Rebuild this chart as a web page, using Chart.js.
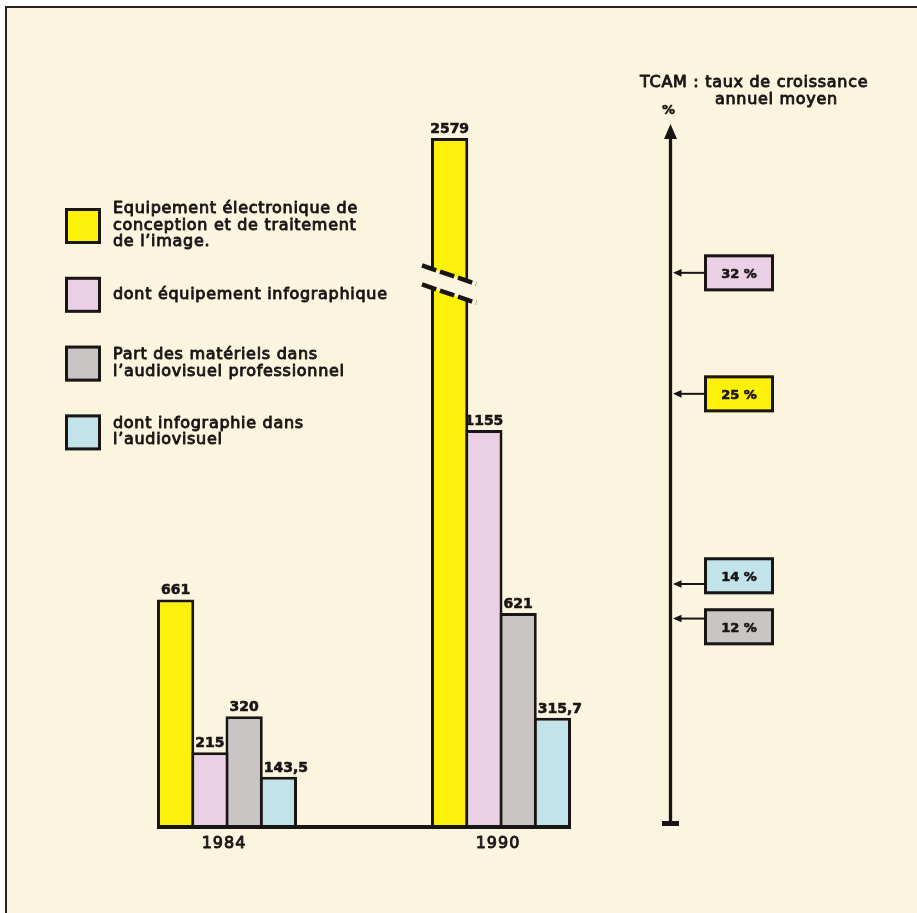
<!DOCTYPE html>
<html>
<head>
<meta charset="utf-8">
<script src="https://cdn.jsdelivr.net/npm/chart.js@4/dist/chart.umd.min.js"></script>
<style>
  html, body { margin: 0; padding: 0; background: #ffffff; }
  canvas { display: block; }
</style>
</head>
<body>
<canvas id="chart" width="917" height="913"></canvas>
<script>
// ---- data -------------------------------------------------------------
const years = ['1984', '1990'];

const seriesNames = [
  ['Equipement électronique de', 'conception et de traitement', 'de l’image.'],
  ['dont équipement infographique'],
  ['Part des matériels dans', 'l’audiovisuel professionnel'],
  ['dont infographie dans', 'l’audiovisuel']
];

const equipementImage         = [661, 2579];
const equipementInfographique = [215, 1155];
const audiovisuelPro          = [320, 621];
const infographieAudiovisuel  = [143.5, 315.7];

// taux de croissance annuel moyen (%), one per series
const growthRates = [25, 32, 12, 14];

// interrupted stretch of the value axis
const axisBreak = [1580, 2152];

const seriesColors = ['#fdf00a', '#e9d0e4', '#c8c5c4', '#c2e3ea'];

// ---- styling ----------------------------------------------------------
const INK = '#1a1515';
const PAPER = '#fbf4df';
const FONT = '"DejaVu Sans", sans-serif';

// Linear scale that skips the range [breakFrom, breakTo]
class BrokenLinearScale extends Chart.LinearScale {
  squeeze(v) {
    const from = this.options.breakFrom, to = this.options.breakTo;
    if (v == null || from == null || v <= from) return v;
    return v < to ? from : v - (to - from);
  }
  getPixelForValue(v) {
    return super.getPixelForValue(this.squeeze(v));
  }
}
BrokenLinearScale.id = 'brokenLinear';
BrokenLinearScale.defaults = Chart.LinearScale.defaults;
Chart.register(BrokenLinearScale);

const allValues = [].concat(equipementImage, equipementInfographique, audiovisuelPro, infographieAudiovisuel);
const maxValue = Math.max(...allValues);
const squeezedMax = maxValue > axisBreak[1] ? maxValue - (axisBreak[1] - axisBreak[0]) : maxValue;

const fmt = v => String(v).replace('.', ',');

function text(ctx, str, x, y, opts) {
  ctx.save();
  ctx.font = opts.font;
  ctx.fillStyle = INK;
  ctx.textAlign = opts.align || 'left';
  ctx.textBaseline = 'alphabetic';
  if ('letterSpacing' in ctx) ctx.letterSpacing = (opts.spacing || 0) + 'px';
  ctx.fillText(str, x, y);
  if (opts.heavy) {
    ctx.strokeStyle = INK;
    ctx.lineWidth = opts.heavy;
    ctx.lineJoin = 'round';
    ctx.strokeText(str, x, y);
  }
  ctx.restore();
}

const LABEL = { font: '16px ' + FONT, spacing: 0.7, heavy: 0.9 };

const figurePlugin = {
  id: 'figure',
  beforeDraw(chart) {
    const { ctx, width, height } = chart;
    ctx.save();
    ctx.fillStyle = '#ffffff';
    ctx.fillRect(0, 0, width, height);
    ctx.fillStyle = PAPER;
    ctx.fillRect(7, 8, width - 7, height - 8);
    ctx.strokeStyle = '#2a2222';
    ctx.lineWidth = 2;
    ctx.beginPath();
    ctx.moveTo(6, height);
    ctx.lineTo(6, 7);
    ctx.lineTo(width, 7);
    ctx.stroke();
    ctx.restore();
  },
  afterDatasetsDraw(chart) {
    const { ctx, chartArea } = chart;
    const yScale = chart.scales.y;
    const xScale = chart.scales.x;
    const rScale = chart.scales.yRate;
    const metas = chart.data.datasets.map((_, i) => chart.getDatasetMeta(i));

    // baseline under the bars
    const y0 = yScale.getPixelForValue(0);
    let minX = Infinity, maxX = -Infinity;
    metas.forEach(m => m.data.forEach(el => {
      minX = Math.min(minX, el.x - el.width / 2);
      maxX = Math.max(maxX, el.x + el.width / 2);
    }));
    ctx.save();
    ctx.strokeStyle = INK;
    ctx.lineWidth = 4;
    ctx.beginPath();
    ctx.moveTo(minX, y0 + 1);
    ctx.lineTo(maxX, y0 + 1);
    ctx.stroke();
    ctx.restore();

    // break marks on bars that cross the interrupted range
    metas.forEach((m, d) => m.data.forEach((el, i) => {
      const v = chart.data.datasets[d].data[i];
      if (v <= axisBreak[1]) return;
      const yc = yScale.getPixelForValue(axisBreak[0]);
      const slope = 0.34, h = 9.5;
      const l = el.x - el.width / 2 - 9, r = el.x + el.width / 2 + 8;
      const yAt = (x, off) => yc + off + slope * (x - el.x);
      ctx.save();
      ctx.fillStyle = PAPER;
      ctx.beginPath();
      ctx.moveTo(l, yAt(l, -h));
      ctx.lineTo(r, yAt(r, -h));
      ctx.lineTo(r, yAt(r, h));
      ctx.lineTo(l, yAt(l, h));
      ctx.closePath();
      ctx.fill();
      ctx.strokeStyle = INK;
      ctx.lineWidth = 4.5;
      ctx.setLineDash([15, 4]);
      [-h, h].forEach(off => {
        ctx.beginPath();
        ctx.moveTo(l, yAt(l, off));
        ctx.lineTo(r, yAt(r, off));
        ctx.stroke();
      });
      ctx.restore();
    }));

    // value labels above the bars (integer part centred on the bar)
    metas.forEach((m, d) => m.data.forEach((el, i) => {
      const v = chart.data.datasets[d].data[i];
      const s = fmt(v);
      ctx.save();
      ctx.font = 'bold 14px ' + FONT;
      const wInt = ctx.measureText(s.split(',')[0]).width;
      ctx.restore();
      text(ctx, s, el.x - wInt / 2, el.y - 5, { font: 'bold 14px ' + FONT, heavy: 0.6 });
    }));

    // year labels
    years.forEach((yr, i) => {
      text(ctx, yr, xScale.getPixelForValue(i) - 3, y0 + 22,
        Object.assign({}, LABEL, { align: 'center', spacing: 1 }));
    });

    // legend
    const boxX = 65, boxS = 36, firstTop = 208, step = 68.8;
    chart.data.datasets.forEach((ds, d) => {
      const top = firstTop + d * step;
      ctx.save();
      ctx.fillStyle = ds.backgroundColor;
      ctx.fillRect(boxX, top, boxS, boxS);
      ctx.strokeStyle = INK;
      ctx.lineWidth = 3;
      ctx.strokeRect(boxX + 1.5, top + 1.5, boxS - 3, boxS - 3);
      ctx.restore();
      const lines = seriesNames[d];
      const lh = 16.5;
      const first = top + boxS / 2 - (lines.length - 1) * lh / 2 + 3.8;
      lines.forEach((ln, k) => text(ctx, ln, 113, first + k * lh, LABEL));
    });

    // growth-rate axis
    const ax = 670.5;
    const axBottom = rScale.getPixelForValue(0);
    const axTop = chartArea.top;
    ctx.save();
    ctx.strokeStyle = INK;
    ctx.fillStyle = INK;
    ctx.lineWidth = 3.3;
    ctx.beginPath();
    ctx.moveTo(ax, axBottom - 2);
    ctx.lineTo(ax, axTop);
    ctx.stroke();
    ctx.beginPath();
    ctx.moveTo(ax, axTop - 14);
    ctx.lineTo(ax - 6.5, axTop + 1);
    ctx.lineTo(ax + 6.5, axTop + 1);
    ctx.closePath();
    ctx.fill();
    ctx.fillRect(ax - 8.5, axBottom - 5, 17, 5);
    ctx.restore();

    text(ctx, '%', ax - 2, axTop - 24, { font: 'bold 13px ' + FONT, align: 'center', heavy: 0.5 });
    text(ctx, 'TCAM : taux de croissance', 640, axTop - 51, LABEL);
    text(ctx, 'annuel moyen', 715, axTop - 34, LABEL);

    // growth-rate tags
    const bw = 70, bh = 37, bx = 704, minGap = 51;
    const tags = growthRates.map((r, d) => ({ d, r, y: rScale.getPixelForValue(r) }));
    tags.forEach(t => t.cy = t.y);
    const sorted = tags.slice().sort((a, b) => a.y - b.y);
    for (let k = 1; k < sorted.length; k++) {
      const a = sorted[k - 1], b = sorted[k];
      const gap = b.cy - a.cy;
      if (gap < minGap) {
        const push = (minGap - gap) / 2;
        a.cy -= push;
        b.cy += push;
      }
    }
    tags.forEach(t => {
      ctx.save();
      ctx.strokeStyle = INK;
      ctx.fillStyle = INK;
      ctx.lineWidth = 2;
      ctx.beginPath();
      ctx.moveTo(bx, t.y);
      ctx.lineTo(ax + 6, t.y);
      ctx.stroke();
      ctx.beginPath();
      ctx.moveTo(ax + 2.5, t.y);
      ctx.lineTo(ax + 11, t.y - 3.8);
      ctx.lineTo(ax + 11, t.y + 3.8);
      ctx.closePath();
      ctx.fill();
      ctx.fillStyle = seriesColors[t.d];
      ctx.fillRect(bx, t.cy - bh / 2, bw, bh);
      ctx.lineWidth = 3;
      ctx.strokeRect(bx + 1.5, t.cy - bh / 2 + 1.5, bw - 3, bh - 3);
      ctx.restore();
      text(ctx, t.r + ' %', bx + bw / 2, t.cy + 5, { font: 'bold 13px ' + FONT, align: 'center', heavy: 0.6 });
    });
  }
};

const seriesData = [equipementImage, equipementInfographique, audiovisuelPro, infographieAudiovisuel];

new Chart(document.getElementById('chart'), {
  type: 'bar',
  data: {
    labels: years,
    datasets: seriesData.map((values, d) => ({
      label: seriesNames[d].join(' '),
      data: values,
      backgroundColor: seriesColors[d],
      borderColor: INK,
      borderWidth: 3,
      categoryPercentage: 0.5,
      barPercentage: 1.0876,
      clip: false
    }))
  },
  options: {
    responsive: false,
    animation: false,
    events: [],
    layout: { padding: { left: 90, right: 279, top: 138, bottom: 87 } },
    plugins: { legend: { display: false }, tooltip: { enabled: false }, title: { display: false } },
    scales: {
      x: { display: false, offset: true },
      y: {
        type: 'brokenLinear',
        display: false,
        min: 0,
        max: squeezedMax,
        breakFrom: axisBreak[0],
        breakTo: axisBreak[1]
      },
      yRate: { type: 'linear', axis: 'y', display: false, min: 0, max: 39.8 }
    }
  },
  plugins: [figurePlugin]
});
</script>
</body>
</html>
